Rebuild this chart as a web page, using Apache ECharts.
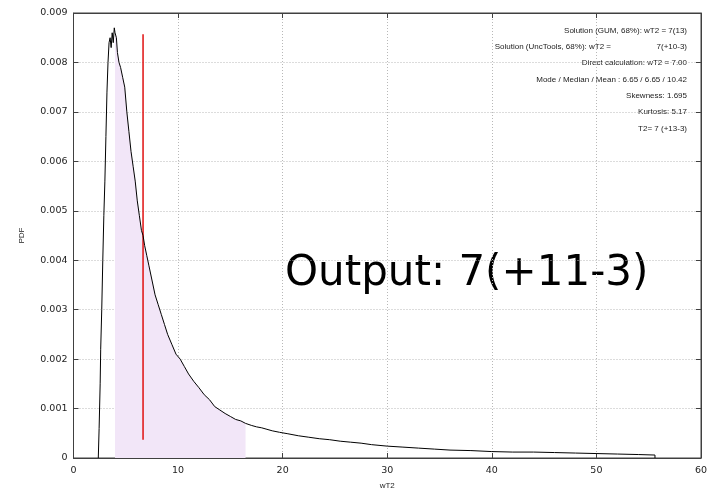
<!DOCTYPE html>
<html>
<head>
<meta charset="utf-8">
<script src="https://cdn.jsdelivr.net/npm/echarts@6/dist/echarts.min.js"></script>
<style>
  html, body { margin: 0; padding: 0; background: #fff; }
  #main { width: 711px; height: 495px; }
</style>
</head>
<body>
<div id="main"></div>
<script>
// histogram (wT2, PDF)
var wT2 = [2.37, 2.45, 2.55, 2.6, 2.7, 2.8, 2.9, 3.0, 3.1, 3.2, 3.3, 3.4, 3.5, 3.6, 3.7, 3.8, 3.9, 3.97,
  4.1, 4.2, 4.35, 4.5, 4.7, 4.9, 5.1, 5.3, 5.5, 5.7, 5.9, 6.1, 6.3, 6.5, 6.65, 6.8, 7.0, 7.2, 7.5, 7.8,
  8.1, 8.4, 8.7, 9.0, 9.4, 9.8, 10.2, 10.6, 11.0, 11.5, 12.0, 12.5, 13.0, 13.5, 14.0, 14.5, 15.0, 15.5,
  16.0, 16.45, 17.0, 17.5, 18.0, 18.5, 19.0, 19.7, 20.5, 21.5, 22.5, 23.5, 24.5, 25.5, 26.5, 27.5, 28.5,
  30, 31.5, 33, 34.5, 36, 38, 40, 42, 44, 46, 48, 50, 52, 54, 55.6, 55.6];
var pdf = [0, 0.0006, 0.0015, 0.0022, 0.0030, 0.0040, 0.0049, 0.0056, 0.0065, 0.0074, 0.0080, 0.0084, 0.0085, 0.0083,
  0.0086, 0.0084, 0.0087, 0.0086, 0.0085, 0.0082, 0.0080, 0.0079, 0.0077, 0.0075, 0.0070, 0.0066, 0.0062, 0.0059,
  0.0056, 0.0052, 0.0049, 0.0046, 0.0045, 0.0043, 0.0041, 0.0039, 0.0036, 0.0033, 0.0031, 0.0029, 0.0027, 0.0025,
  0.0023, 0.0021, 0.0020, 0.00185, 0.0017, 0.00155, 0.00142, 0.00128, 0.00118, 0.00104, 0.00097, 0.00090,
  0.00084, 0.00078, 0.00075, 0.00070, 0.00066, 0.00063, 0.00061, 0.00058, 0.00055, 0.00052, 0.00049, 0.00045,
  0.00042, 0.00039, 0.00037, 0.00034, 0.00032, 0.00030, 0.00027, 0.00024, 0.00022, 0.00020, 0.00018, 0.00016,
  0.00015, 0.00013, 0.00012, 0.00012, 0.00011, 0.00010, 0.00009, 0.00008, 0.00007, 0.00006, 0];

var shadeRange = [3.97, 16.45];          // 68% interval
var modeLine = [[6.65, 0.00037], [6.65, 0.00857]];

var xTickLabels = ['0', '10', '20', '30', '40', '50', '60'];
var yTickLabels = ['0', '0.001', '0.002', '0.003', '0.004', '0.005', '0.006', '0.007', '0.008', '0.009'];

var notes = [
  'Solution (GUM, 68%): wT2 = 7(13)',
  '7(+10-3)',
  'Direct calculation: wT2 = 7.00',
  'Mode / Median / Mean : 6.65 / 6.65 / 10.42',
  'Skewness: 1.695',
  'Kurtosis: 5.17',
  'T2= 7 (+13-3)'
];
var noteLeftPart = 'Solution (UncTools, 68%): wT2 =';
var bigText = 'Output: 7(+11-3)';

var curve = wT2.map(function (x, i) { return [x, pdf[i]]; });
var shade = curve.filter(function (p, i) {
  return p[0] >= shadeRange[0] && p[0] <= shadeRange[1] && i < curve.length - 1;
});

var chart = echarts.init(document.getElementById('main'), null, { renderer: 'canvas' });

var frame = { show: true, onZero: false, lineStyle: { color: '#404040', width: 1 } };
var ticks = { show: true, inside: true, length: 5, lineStyle: { color: '#404040' } };
var grid = { show: true, lineStyle: { color: '#b8b8b8', type: [1, 2], width: 1 } };
var tickFont = { color: '#222', fontFamily: 'DejaVu Sans', fontSize: 9.5 };
var noteFont = '8px "Liberation Sans", Arial';

var noteGraphics = notes.map(function (t, i) {
  return {
    type: 'text', x: 687, y: 30.5 + i * 16.3,
    style: { text: t, fill: '#222', font: noteFont, textAlign: 'right', textVerticalAlign: 'middle' }
  };
});
noteGraphics.push({
  type: 'text', x: 611, y: 30.5 + 16.3,
  style: { text: noteLeftPart, fill: '#222', font: noteFont, textAlign: 'right', textVerticalAlign: 'middle' }
});
noteGraphics.push({
  type: 'text', x: 285, y: 274,
  style: { text: bigText, fill: '#000', font: '42px "DejaVu Sans"', textAlign: 'left', textVerticalAlign: 'middle' }
});

var option = {
  animation: false,
  grid: { left: 73.5, right: 10, top: 13, bottom: 35, show: true, borderColor: '#404040', borderWidth: 1, backgroundColor: 'transparent' },
  xAxis: [
    {
      type: 'value', min: 0, max: 60, interval: 10, position: 'bottom',
      name: 'wT2', nameLocation: 'middle', nameGap: 24,
      nameTextStyle: { color: '#222', fontFamily: 'Liberation Sans', fontSize: 8 },
      axisLine: frame, axisTick: ticks,
      axisLabel: Object.assign({ margin: 8, formatter: function (v) { return xTickLabels[Math.round(v / 10)]; } }, tickFont),
      splitLine: grid
    },
    {
      type: 'value', min: 0, max: 60, interval: 10, position: 'top',
      axisLine: frame, axisTick: ticks,
      axisLabel: { show: false }, splitLine: { show: false }
    }
  ],
  yAxis: [
    {
      type: 'value', min: 0, max: 0.009, interval: 0.001, position: 'left',
      name: 'PDF', nameLocation: 'middle', nameGap: 48, nameRotate: 90,
      nameTextStyle: { color: '#222', fontFamily: 'Liberation Sans', fontSize: 8 },
      axisLine: frame, axisTick: ticks,
      axisLabel: Object.assign({ margin: 6, formatter: function (v) { return yTickLabels[Math.round(v / 0.001)]; } }, tickFont),
      splitLine: grid
    },
    {
      type: 'value', min: 0, max: 0.009, interval: 0.001, position: 'right',
      axisLine: frame, axisTick: ticks,
      axisLabel: { show: false }, splitLine: { show: false }
    }
  ],
  series: [
    {
      type: 'line', data: shade, symbol: 'none', silent: true,
      lineStyle: { width: 0 }, areaStyle: { color: '#f2e6f8', opacity: 1 }
    },
    {
      type: 'line', data: modeLine, symbol: 'none',
      lineStyle: { color: '#e01010', width: 1.5 }
    },
    {
      type: 'line', data: curve, symbol: 'none',
      lineStyle: { color: '#000', width: 1 }
    }
  ],
  graphic: noteGraphics
};

chart.setOption(option);
</script>
</body>
</html>
